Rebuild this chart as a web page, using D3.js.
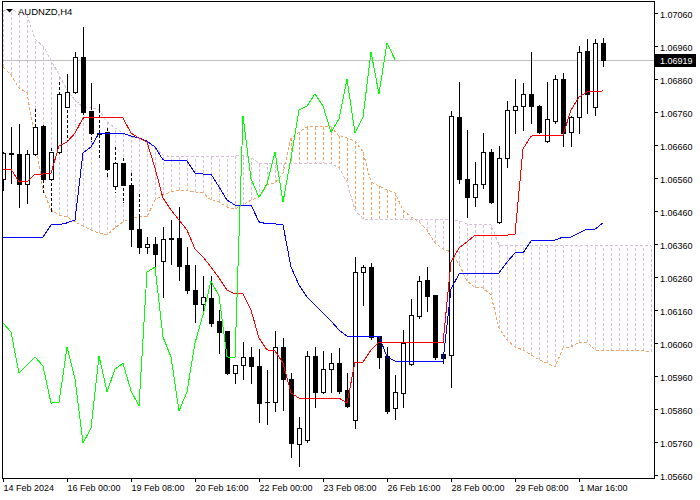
<!DOCTYPE html>
<html lang="en">
<head>
<meta charset="UTF-8">
<title>AUDNZD,H4</title>
<script src="https://cdn.jsdelivr.net/npm/d3@7"></script>
<style>
  body { margin: 0; background: #fff; }
  svg text { font-family: "Liberation Sans", Arial, sans-serif; }
</style>
</head>
<body>
<script>
// H4 bars, first bar = 14 Feb 2024 16:00
var open = [1.06557,1.06636,1.06634,1.06542,1.06633,1.06718,1.06557,1.06639,1.06775,1.06821,
  1.06927,1.06763,1.06696,1.06699,1.06536,1.06605,1.06539,1.06405,1.06351,1.06360,
  1.06309,1.06378,1.06378,1.06296,1.06221,1.06178,1.06196,1.06127,1.06096,1.05969,
  1.05993,1.06018,1.05990,1.05881,1.05881,1.06048,1.05951,1.05754,1.05766,1.06021,
  1.05912,1.05981,1.05999,1.05918,1.05827,1.06275,1.06290,1.06081,1.06021,1.05863,
  1.05909,1.05996,1.06142,1.06251,1.06205,1.06027,1.06024,1.06745,1.06557,1.06502,
  1.06542,1.06639,1.06427,1.06621,1.06766,1.06778,1.06815,1.06778,1.06672,1.06733,
  1.06860,1.06699,1.06745,1.06945,1.06775,1.06969];
var high = [1.06639,1.06715,1.06724,1.06645,1.06769,1.06721,1.06651,1.06851,1.06875,1.06942,
  1.07018,1.06848,1.06784,1.06712,1.06654,1.06621,1.06575,1.06511,1.06381,1.06381,
  1.06412,1.06433,1.06472,1.06351,1.06296,1.06263,1.06263,1.06160,1.06096,1.05993,
  1.06063,1.06048,1.06042,1.05978,1.06096,1.06075,1.05969,1.05836,1.06036,1.06048,
  1.06036,1.06030,1.06045,1.05969,1.06321,1.06296,1.06302,1.06081,1.06048,1.05963,
  1.06099,1.06193,1.06263,1.06290,1.06205,1.06033,1.06763,1.06851,1.06705,1.06608,
  1.06696,1.06648,1.06657,1.06793,1.06860,1.06848,1.06942,1.06781,1.06851,1.06872,
  1.06878,1.06748,1.06960,1.06981,1.06981,1.06984];
var low = [1.06524,1.06545,1.06472,1.06484,1.06630,1.06518,1.06460,1.06636,1.06675,1.06818,
  1.06742,1.06672,1.06624,1.06566,1.06518,1.06487,1.06354,1.06333,1.06333,1.06290,
  1.06199,1.06299,1.06251,1.06212,1.06124,1.06151,1.06112,1.06030,1.05966,1.05939,
  1.05951,1.05939,1.05821,1.05815,1.05854,1.05857,1.05715,1.05687,1.05760,1.05866,
  1.05909,1.05912,1.05909,1.05866,1.05802,1.06175,1.06072,1.05984,1.05848,1.05830,
  1.05866,1.05993,1.06136,1.06157,1.06012,1.05999,1.05927,1.06545,1.06442,1.06475,
  1.06530,1.06484,1.06424,1.06593,1.06696,1.06705,1.06727,1.06696,1.06669,1.06727,
  1.06657,1.06657,1.06696,1.06757,1.06751,1.06899];
var close = [1.06636,1.06633,1.06542,1.06633,1.06715,1.06557,1.06639,1.06815,1.06821,1.06927,
  1.06760,1.06696,1.06694,1.06587,1.06605,1.06539,1.06405,1.06351,1.06360,1.06330,
  1.06375,1.06376,1.06293,1.06221,1.06178,1.06199,1.06121,1.06093,1.05969,1.05993,
  1.06018,1.05990,1.05878,1.05880,1.06048,1.05951,1.05757,1.05802,1.06021,1.05912,
  1.05981,1.05999,1.05915,1.05869,1.06275,1.06290,1.06078,1.06018,1.05854,1.05912,
  1.06060,1.06145,1.06248,1.06202,1.06018,1.06015,1.06748,1.06557,1.06502,1.06542,
  1.06639,1.06487,1.06621,1.06766,1.06778,1.06815,1.06778,1.06699,1.06739,1.06860,
  1.06696,1.06745,1.06942,1.06815,1.06969,1.06919];

// Ichimoku lines
var tenkan = [1.06587,1.06587,1.06548,1.06548,1.06572,1.06572,1.06575,1.06657,1.06669,1.06696,
  1.06742,1.06742,1.06742,1.06742,1.06742,1.06742,1.06696,1.06681,1.06669,1.06590,
  1.06499,1.06463,1.06433,1.06402,1.06345,1.06321,1.06290,1.06257,1.06221,1.06209,
  1.06209,1.06160,1.06075,1.06039,1.06036,1.05999,1.05909,1.05893,1.05893,1.05893,
  1.05893,1.05893,1.05893,1.05878,1.06002,1.06002,1.06039,1.06063,1.06063,1.06063,
  1.06063,1.06063,1.06063,1.06063,1.06063,1.06060,1.06305,1.06348,1.06366,1.06387,
  1.06387,1.06387,1.06387,1.06387,1.06390,1.06648,1.06687,1.06690,1.06690,1.06690,
  1.06690,1.06766,1.06805,1.06821,1.06821,1.06824];
var kijun = [1.06381,1.06381,1.06381,1.06381,1.06381,1.06381,1.06418,1.06418,1.06424,1.06433,
  1.06636,1.06654,1.06696,1.06696,1.06696,1.06696,1.06687,1.06681,1.06672,1.06654,
  1.06615,1.06612,1.06612,1.06612,1.06575,1.06572,1.06572,1.06533,1.06493,1.06478,
  1.06478,1.06478,1.06427,1.06421,1.06421,1.06418,1.06290,1.06236,1.06199,1.06175,
  1.06151,1.06127,1.06099,1.06081,1.06081,1.06081,1.06081,1.06081,1.06018,1.06005,
  1.06005,1.06005,1.06005,1.06005,1.06005,1.06005,1.06224,1.06269,1.06272,1.06272,
  1.06272,1.06272,1.06272,1.06305,1.06333,1.06333,1.06369,1.06372,1.06372,1.06372,
  1.06381,1.06381,1.06393,1.06405,1.06405,1.06424];
var spanA = [1.06896,1.06872,1.06833,1.06818,1.06678,1.06524,1.06463,1.06448,1.06442,1.06427,
  1.06415,1.06402,1.06393,1.06387,1.06409,1.06427,1.06439,1.06442,1.06442,1.06493,
  1.06509,1.06518,1.06524,1.06521,1.06518,1.06515,1.06493,1.06487,1.06472,1.06466,
  1.06478,1.06493,1.06502,1.06539,1.06545,1.06575,1.06681,1.06699,1.06715,1.06715,
  1.06715,1.06715,1.06687,1.06681,1.06672,1.06639,1.06548,1.06536,1.06524,1.06515,
  1.06463,1.06442,1.06427,1.06402,1.06363,1.06345,1.06336,1.06299,1.06248,1.06227,
  1.06227,1.06205,1.06105,1.06069,1.06048,1.06039,1.06024,1.06009,1.05999,1.05987,
  1.06045,1.06048,1.06063,1.06063,1.06039,1.06036,1.06036,1.06036,1.06036,1.06036,
  1.06036,1.06033];
var spanB = [1.07069,1.07069,1.07063,1.07054,1.06981,1.06960,1.06918,1.06872,1.06827,1.06796,
  1.06775,1.06775,1.06766,1.06730,1.06712,1.06696,1.06684,1.06681,1.06672,1.06651,
  1.06630,1.06624,1.06624,1.06624,1.06624,1.06624,1.06624,1.06624,1.06624,1.06627,
  1.06627,1.06621,1.06605,1.06605,1.06605,1.06605,1.06605,1.06605,1.06605,1.06605,
  1.06605,1.06605,1.06590,1.06548,1.06463,1.06436,1.06433,1.06433,1.06433,1.06433,
  1.06433,1.06433,1.06433,1.06433,1.06433,1.06433,1.06433,1.06430,1.06421,1.06418,
  1.06418,1.06418,1.06357,1.06354,1.06354,1.06354,1.06354,1.06354,1.06354,1.06354,
  1.06354,1.06354,1.06354,1.06354,1.06354,1.06354,1.06354,1.06354,1.06354,1.06354,
  1.06354,1.06354];
var chikouShift = 26;

var xTickIdx = [0, 8, 16, 24, 32, 40, 48, 56, 64, 72];
var xTickLabels = ["14 Feb 2024", "16 Feb 00:00", "19 Feb 08:00", "20 Feb 16:00", "22 Feb 00:00",
  "23 Feb 08:00", "26 Feb 16:00", "28 Feb 00:00", "29 Feb 08:00", "1 Mar 16:00"];
var yTicks = [1.0566, 1.0576, 1.0586, 1.0596, 1.0606, 1.0616, 1.0626, 1.0636,
  1.0646, 1.0656, 1.0666, 1.0676, 1.0686, 1.0696, 1.0706];
var lastPrice = 1.06919;

var svg = d3.select("body").append("svg")
    .attr("width", 700)
    .attr("height", 500);
svg.append("rect").attr("width", 700).attr("height", 500).attr("fill", "#fff");

var x = d3.scaleLinear().domain([0, 81.375]).range([3, 654]);
var y = d3.scaleLinear().domain([1.0566, 1.0706]).range([475, 13]);
function px(i) { return Math.round(x(i)) + 0.5; }

svg.append("clipPath").attr("id", "clip")
  .append("rect").attr("x", 3).attr("y", 2).attr("width", 651).attr("height", 476);
var plot = svg.append("g").attr("clip-path", "url(#clip)");

// cloud hatch
var cloudIdx = d3.range(spanA.length);
plot.append("g").attr("shape-rendering", "crispEdges")
  .selectAll("line").data(cloudIdx).join("line")
    .attr("x1", px).attr("x2", px)
    .attr("y1", function(i) { return y(spanA[i]); })
    .attr("y2", function(i) { return y(spanB[i]); })
    .attr("stroke", function(i) { return spanA[i] >= spanB[i] ? "#f4a460" : "#d8bfd8"; })
    .attr("stroke-dasharray", "3,2");

// span lines
var spanLine = function(arr) {
  return d3.line().x(function(i) { return x(i); }).y(function(i) { return y(arr[i]); })(cloudIdx);
};
plot.append("path").attr("d", spanLine(spanB)).attr("fill", "none")
  .attr("stroke", "#d8bfd8").attr("stroke-dasharray", "3,2").attr("shape-rendering", "crispEdges");
plot.append("path").attr("d", spanLine(spanA)).attr("fill", "none")
  .attr("stroke", "#f4a460").attr("stroke-dasharray", "3,2").attr("shape-rendering", "crispEdges");

// last price line
plot.append("line").attr("x1", 3).attr("x2", 654)
  .attr("y1", Math.round(y(lastPrice)) + 0.5).attr("y2", Math.round(y(lastPrice)) + 0.5)
  .attr("stroke", "#c0c0c0").attr("shape-rendering", "crispEdges");

// candles
var gC = plot.append("g").attr("shape-rendering", "crispEdges");
d3.range(open.length).forEach(function(i) {
  var cx = px(i);
  var yH = Math.round(y(high[i])), yL = Math.round(y(low[i]));
  var yO = Math.round(y(open[i])), yCl = Math.round(y(close[i]));
  gC.append("line").attr("x1", cx).attr("x2", cx).attr("y1", yH).attr("y2", yL + 1)
    .attr("stroke", "#000");
  // wick looks dotted where it runs through the cloud
  var cTop = Math.round(Math.min(y(spanA[i]), y(spanB[i])));
  var cBot = Math.round(Math.max(y(spanA[i]), y(spanB[i])));
  var s1 = Math.max(yH, cTop), s2 = Math.min(yL, cBot);
  if (s2 - s1 > 2) {
    gC.append("line").attr("x1", cx).attr("x2", cx).attr("y1", s1).attr("y2", s2)
      .attr("stroke", "#fff").attr("stroke-dasharray", "2,3").attr("stroke-dashoffset", -3);
  }
  var top = Math.min(yO, yCl), bot = Math.max(yO, yCl);
  if (bot === top) {
    gC.append("line").attr("x1", cx - 2.5).attr("x2", cx + 2.5)
      .attr("y1", top + 0.5).attr("y2", top + 0.5).attr("stroke", "#000");
  } else {
    gC.append("rect").attr("x", cx - 2).attr("y", top + 0.5)
      .attr("width", 4).attr("height", bot - top)
      .attr("fill", close[i] > open[i] ? "#fff" : "#000").attr("stroke", "#000");
  }
});

// kijun, tenkan, chikou
function drawLine(arr, offset, color) {
  var pts = arr.map(function(v, i) { return [i + offset, v]; })
    .filter(function(d) { return d[0] >= 0; });
  plot.append("path")
    .attr("d", d3.line().x(function(d) { return x(d[0]); }).y(function(d) { return y(d[1]); })(pts))
    .attr("fill", "none").attr("stroke", color).attr("stroke-width", 1)
    .attr("shape-rendering", "crispEdges");
}
drawLine(kijun, 0, "#0000ff");
drawLine(tenkan, 0, "#ff0000");
drawLine(close, -chikouShift, "#00ff00");

// frame
svg.append("rect").attr("x", 2.5).attr("y", 1.5).attr("width", 652).attr("height", 477)
  .attr("fill", "none").attr("stroke", "#000").attr("shape-rendering", "crispEdges");

// axes
var yAxis = d3.axisRight(y).tickValues(yTicks).tickSize(4).tickPadding(2)
  .tickFormat(d3.format(".5f"));
var gy = svg.append("g").attr("transform", "translate(654,0)").call(yAxis);
gy.select(".domain").remove();
gy.selectAll("text").attr("font-size", 9).attr("font-family", "Liberation Sans, Arial, sans-serif")
  .attr("fill", "#000").attr("dy", "0.48em");
gy.selectAll("line").attr("stroke", "#000").attr("shape-rendering", "crispEdges");

var xAxis = d3.axisBottom(x).tickValues(xTickIdx).tickSize(4).tickPadding(3)
  .tickFormat(function(d, i) { return xTickLabels[i]; });
var gx = svg.append("g").attr("transform", "translate(0,478)").call(xAxis);
gx.select(".domain").remove();
gx.selectAll("text").attr("font-size", 9).attr("font-family", "Liberation Sans, Arial, sans-serif")
  .attr("fill", "#000").attr("text-anchor", "start");
gx.selectAll("line").attr("stroke", "#000").attr("shape-rendering", "crispEdges");

// last price tag
var ly = Math.round(y(lastPrice)) + 0.5;
svg.append("rect").attr("x", 655).attr("y", ly - 6.5).attr("width", 41).attr("height", 13)
  .attr("fill", "#000");
svg.append("text").attr("x", 660).attr("y", ly).attr("dy", "0.36em")
  .attr("font-size", 9).attr("fill", "#fff").text(d3.format(".5f")(lastPrice));

// symbol label
svg.append("path").attr("d", "M6,9 L13,9 L9.5,12.5 Z").attr("fill", "#000");
svg.append("text").attr("x", 18).attr("y", 14.5).attr("font-size", 9.5)
  .attr("fill", "#000").text("AUDNZD,H4");
</script>
</body>
</html>
